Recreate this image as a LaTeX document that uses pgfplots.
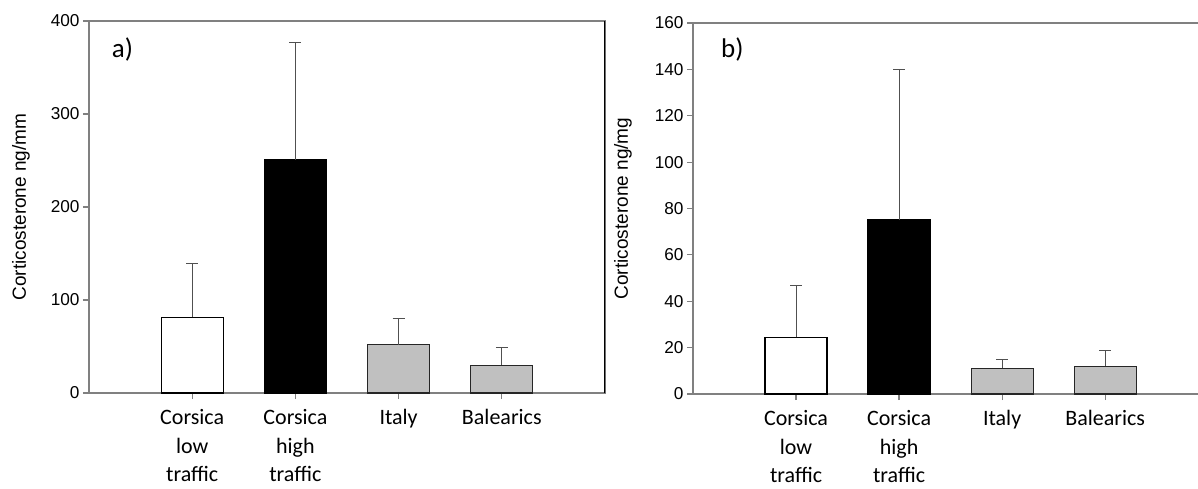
\documentclass[border=0pt]{standalone}
\usepackage{fontspec}
\setmainfont{Carlito}
\newfontfamily\arial{Liberation Sans}
\usepackage{pgfplots}
\pgfplotsset{compat=1.18}
\definecolor{barg}{HTML}{C0C0C0}
\definecolor{axg}{HTML}{808080}
\definecolor{errg}{HTML}{505050}

\pgfplotsset{
  panel/.style={
    scale only axis,
    xmin=0,
    ytick pos=left, xtick pos=bottom,
    tick align=outside,
    major tick length=6pt,
    tick style={color=axg, line width=1.2pt},
    axis line style={color=axg, line width=1.2pt},
    xtick={1,2,3,4},
    xticklabels={{Corsica\\low\\traffic},{Corsica\\high\\traffic},Italy,Balearics},
    xticklabel style={align=center, font=\fontsize{22}{28.5}\selectfont, yshift=-7pt},
    yticklabel style={font=\arial\fontsize{17.2}{18}\selectfont},
    /pgf/number format/assume math mode=true,
    ymin=0,
    ybar, bar width=62pt, bar shift=0pt,
    every axis plot/.append style={line width=1.2pt},
    error bars/y dir=plus, error bars/y explicit,
    error bars/error bar style={color=errg, line width=1pt},
    error bars/error mark options={rotate=90, mark size=6pt, line width=1pt, color=errg},
  }
}

\begin{document}
\begin{tikzpicture}
\useasboundingbox (0pt,0pt) rectangle (1198pt,488pt);
% Panel a
\begin{axis}[panel,
  anchor=south west, at={(89pt,95pt)}, width=516pt, height=372pt,
  xmax=5, ymax=400, ytick={0,100,200,300,400},
  ylabel={Corticosterone ng/mm},
  ylabel style={font=\arial\fontsize{19}{20}\selectfont, at={(axis description cs:-0.132,0.5)}, anchor=center},
]
\addplot[fill=white, draw=black] coordinates {(1,81.6) +- (0,58)};
\addplot[fill=black, draw=black] coordinates {(2,251) +- (0,126)};
\addplot[fill=barg, draw=black!85] coordinates {(3,52) +- (0,28) (4,30) +- (0,18.7)};
\draw[black, line width=1.2pt] (rel axis cs:1,0) -- (rel axis cs:1,1);
\node[anchor=base west, font=\fontsize{27}{30}\selectfont, inner sep=0pt] at (rel axis cs:0.044,0.903) {a)};
\end{axis}
% Panel b
\begin{axis}[panel,
  anchor=south west, at={(693pt,94pt)}, width=508pt, height=371pt,
  xmax=4.93, ymax=160, ytick={0,20,...,160},
  ylabel={Corticosterone ng/mg},
  ylabel style={font=\arial\fontsize{19}{20}\selectfont, at={(axis description cs:-0.138,0.5)}, anchor=center},
]
\addplot[fill=white, draw=black] coordinates {(1,24.4) +- (0,22.3)};
\addplot[fill=black, draw=black] coordinates {(2,75) +- (0,65)};
\addplot[fill=barg, draw=black!85] coordinates {(3,11) +- (0,3.9) (4,11.9) +- (0,6.9)};
\node[anchor=base west, font=\fontsize{27}{30}\selectfont, inner sep=0pt] at (rel axis cs:0.055,0.908) {b)};
\end{axis}
\end{tikzpicture}
\end{document}
